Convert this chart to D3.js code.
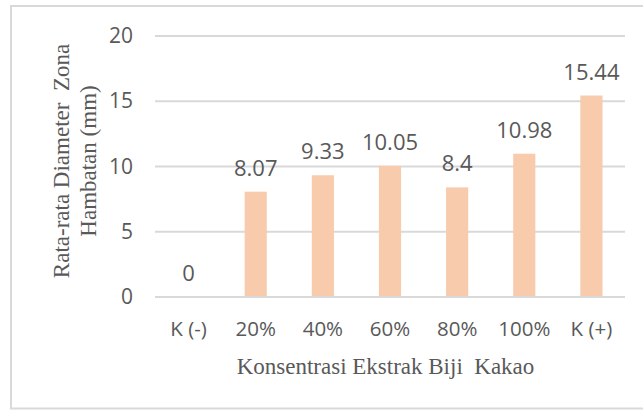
<!DOCTYPE html>
<html><head><meta charset="utf-8">
<script src="https://cdn.jsdelivr.net/npm/d3@7"></script>
<style>body{margin:0;background:#fff;overflow:hidden}svg{display:block}</style>
</head><body>
<script>
const categories = ["K (-)", "20%", "40%", "60%", "80%", "100%", "K (+)"];
const values = [0, 8.07, 9.33, 10.05, 8.4, 10.98, 15.44];
const valueLabels = ["0", "8.07", "9.33", "10.05", "8.4", "10.98", "15.44"];
const yTicks = [0, 5, 10, 15, 20];
const xTitle = "Konsentrasi Ekstrak Biji\u00a0 Kakao";
const yTitleLines = ["Rata-rata Diameter\u00a0 Zona", "Hambatan (mm)"];

(function () {
const W = 643, H = 410;
const svg = d3.select("body").append("svg").attr("width", W).attr("height", H);
svg.append("rect").attr("x", 11).attr("y", 6).attr("width", 645).attr("height", 402.5)
  .attr("fill", "#fff").attr("stroke", "#d9d9d9").attr("stroke-width", 2);

const pLeft = 155, pRight = 625, pTop = 36, pBottom = 297;
const x = d3.scaleBand().domain(categories).range([pLeft, pRight]).paddingInner(0.67).paddingOuter(0.335);
const y = d3.scaleLinear().domain([0, 20]).range([pBottom, pTop]);

const sans = "'Open Sans', sans-serif";
const serif = "'Liberation Serif', 'Times New Roman', serif";
const grey = "#595959";

svg.append("g").selectAll("line").data(yTicks).join("line")
  .attr("x1", pLeft).attr("x2", pRight).attr("y1", d => y(d)).attr("y2", d => y(d))
  .attr("stroke", "#d9d9d9").attr("stroke-width", 2);

const yAxis = svg.append("g").attr("transform", `translate(${pLeft - 22},0)`)
  .call(d3.axisLeft(y).tickValues(yTicks).tickSize(0).tickPadding(0));
yAxis.select(".domain").remove();
yAxis.selectAll("text").attr("font-family", sans).attr("font-size", 21).attr("fill", grey);

svg.append("g").selectAll("rect").data(values).join("rect")
  .attr("x", (d, i) => x(categories[i])).attr("width", x.bandwidth())
  .attr("y", d => y(d)).attr("height", d => y(0) - y(d))
  .attr("fill", "#f8cbad");

svg.append("line").attr("x1", pLeft).attr("x2", pRight).attr("y1", y(0)).attr("y2", y(0))
  .attr("stroke", "#d9d9d9").attr("stroke-width", 2);

svg.append("g").selectAll("text").data(values).join("text")
  .attr("x", (d, i) => x(categories[i]) + x.bandwidth() / 2)
  .attr("y", d => y(d) - 16)
  .attr("text-anchor", "middle").attr("font-family", sans).attr("font-size", 22).attr("fill", grey)
  .text((d, i) => valueLabels[i]);

const xAxis = svg.append("g").attr("transform", `translate(0,${pBottom})`)
  .call(d3.axisBottom(x).tickSize(0).tickPadding(0));
xAxis.select(".domain").remove();
xAxis.selectAll("text").attr("font-family", sans).attr("font-size", 20.5).attr("fill", grey)
  .attr("dy", null).attr("y", 39);

svg.append("text").attr("x", 385.5).attr("y", 374)
  .attr("text-anchor", "middle").attr("font-family", serif).attr("font-size", 23).attr("fill", grey)
  .text(xTitle);

const yt = svg.append("text").attr("transform", "translate(0,161) rotate(-90)")
  .attr("text-anchor", "middle").attr("font-family", serif).attr("font-size", 23).attr("fill", grey);
yTitleLines.forEach((t, i) => yt.append("tspan").attr("x", 0).attr("y", 69 + i * 27).text(t));
})();
</script>
</body></html>
